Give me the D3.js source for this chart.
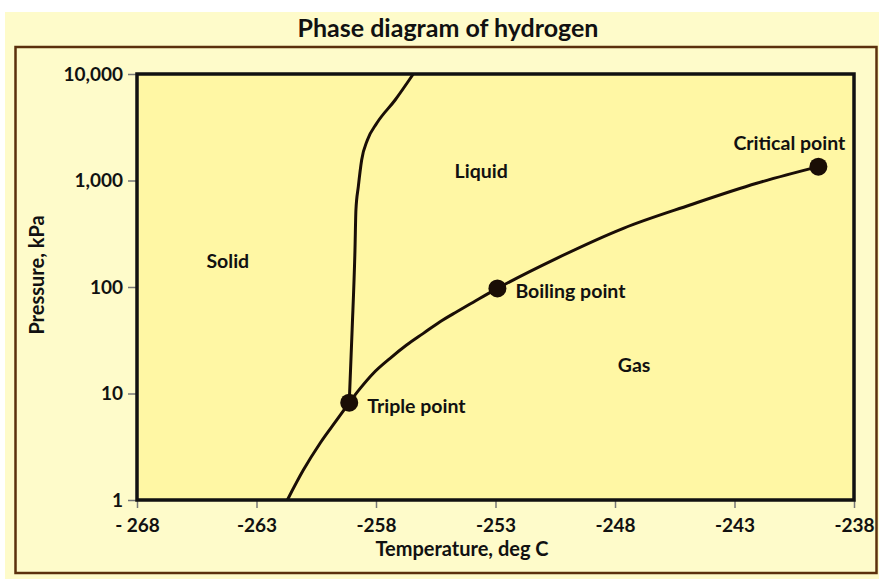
<!DOCTYPE html>
<meta charset="utf-8">
<style>
body { margin: 0; background: #fff; }
text { font-family: Lato, "Open Sans", sans-serif; font-weight: bold; fill: #111; }
.tick line { stroke: #777; stroke-width: 1.5px; }
.tick text { font-size: 19px; }
.domain { display: none; }
.curve { fill: none; stroke: #1a0e06; stroke-width: 3px; stroke-linejoin: round; }
.pt { fill: #1a0e06; }
.lbl { font-size: 19.5px; }
</style>
<svg width="879" height="579"></svg>
<script src="https://cdn.jsdelivr.net/npm/d3@7"></script>
<script>

// temperature deg C, pressure kPa
var sublimation = [[-261.71, 1], [-261.04, 1.91], [-260.34, 3.41], [-259.64, 5.64], [-259.12, 8.2]];
var melting = [[-259.12, 8.2], [-259.0, 39], [-258.88, 222], [-258.84, 528], [-258.74, 875],
  [-258.60, 1557], [-258.36, 2400], [-257.97, 3444], [-257.2, 5700], [-256.44, 10000]];
var vaporization = [[-259.12, 8.2], [-258.67, 11.1], [-258.11, 15.5], [-257.41, 21.4], [-256.72, 28.5],
  [-256.02, 36.7], [-255.32, 47.2], [-254.62, 58.6], [-253.93, 72], [-252.92, 97], [-250.44, 186],
  [-247.65, 356], [-244.86, 589], [-242.07, 942], [-239.49, 1349]];

var points = [
  {name: "Triple point", t: -259.12, p: 8.2},
  {name: "Boiling point", t: -252.92, p: 97},
  {name: "Critical point", t: -239.49, p: 1349}
];
var regions = [
  {name: "Solid", t: -264.2, p: 150},
  {name: "Liquid", t: -253.6, p: 1050},
  {name: "Gas", t: -247.2, p: 16}
];

var xTicks = [-268, -263, -258, -253, -248, -243, -238];
var xTickLabels = ["- 268", "-263", "-258", "-253", "-248", "-243", "-238"];
var yTicks = [1, 10, 100, 1000, 10000];
var yTickLabels = ["1", "10", "100", "1,000", "10,000"];

var svg = d3.select("svg");

// outer panel
svg.append("rect").attr("x", 5).attr("y", 12).attr("width", 874).attr("height", 567)
  .attr("fill", "#fefbca");
svg.append("rect").attr("x", 15.5).attr("y", 47).attr("width", 861).attr("height", 526)
  .attr("fill", "none").attr("stroke", "#5b300c").attr("stroke-width", 2.5);

svg.append("text").attr("x", 448).attr("y", 37).attr("text-anchor", "middle")
  .style("font-size", "25px").text("Phase diagram of hydrogen");

var pLeft = 137, pRight = 854, pTop = 74, pBottom = 500;

var x = d3.scaleLinear().domain([-268, -238]).range([pLeft, pRight]);
var y = d3.scaleLog().domain([1, 10000]).range([pBottom, pTop]);

svg.append("rect").attr("x", pLeft).attr("y", pTop).attr("width", pRight - pLeft).attr("height", pBottom - pTop)
  .attr("fill", "#fff7a4");

svg.append("g").attr("transform", "translate(0," + pBottom + ")")
  .call(d3.axisBottom(x).tickValues(xTicks).tickSize(8).tickPadding(11)
    .tickFormat(function(d, i) { return xTickLabels[i]; }));

svg.append("g").attr("transform", "translate(" + pLeft + ",0)")
  .call(d3.axisLeft(y).tickValues(yTicks).tickSize(9).tickPadding(5)
    .tickFormat(function(d, i) { return yTickLabels[i]; }));

var line = d3.line()
  .x(function(d) { return x(d[0]); })
  .y(function(d) { return y(d[1]); })
  .curve(d3.curveMonotoneX);

[sublimation, melting, vaporization].forEach(function(c) {
  svg.append("path").attr("class", "curve").attr("d", line(c));
});

svg.append("rect").attr("x", pLeft).attr("y", pTop).attr("width", pRight - pLeft).attr("height", pBottom - pTop)
  .attr("fill", "none").attr("stroke", "#111").attr("stroke-width", 3.5);

svg.selectAll(".pt").data(points).enter().append("circle")
  .attr("class", "pt")
  .attr("cx", function(d) { return x(d.t); })
  .attr("cy", function(d) { return y(d.p); })
  .attr("r", 9);

svg.selectAll(".plbl").data(points).enter().append("text")
  .attr("class", "lbl")
  .attr("x", function(d, i) { return i == 2 ? x(d.t) - 29 : x(d.t) + 18; })
  .attr("y", function(d, i) { return i == 2 ? y(d.p) - 17 : y(d.p) + 10; })
  .attr("text-anchor", function(d, i) { return i == 2 ? "middle" : "start"; })
  .text(function(d) { return d.name; });

svg.selectAll(".rlbl").data(regions).enter().append("text")
  .attr("class", "lbl")
  .attr("x", function(d) { return x(d.t); })
  .attr("y", function(d) { return y(d.p); })
  .attr("text-anchor", "middle")
  .text(function(d) { return d.name; });

svg.append("text").attr("x", 462).attr("y", 556).attr("text-anchor", "middle")
  .style("font-size", "20px").text("Temperature, deg C");

svg.append("text").attr("transform", "translate(44,275) rotate(-90)").attr("text-anchor", "middle")
  .style("font-size", "20px").text("Pressure, kPa");

</script>
